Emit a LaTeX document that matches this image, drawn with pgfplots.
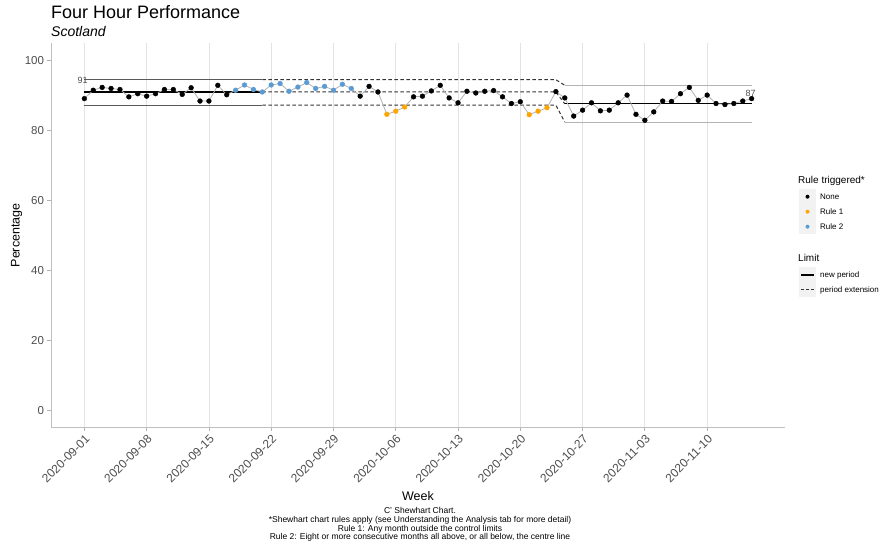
\documentclass[border=0pt]{standalone}
\usepackage{pgfplots}
\usepackage{pgfplotstable}
\usepackage{fontspec}
\setmainfont{Liberation Sans}
\pgfplotsset{compat=1.18}
\definecolor{ruleone}{HTML}{FFA500}
\definecolor{ruletwo}{HTML}{5A9BD4}
\definecolor{ticktxt}{HTML}{4D4D4D}
\definecolor{keybg}{HTML}{F2F2F2}
\definecolor{dashcol}{HTML}{333333}

% day index (0 = 2020-09-01), percentage, rule class
\pgfplotstableread{
day val rule
0 89.1 N
1 91.5 N
2 92.3 N
3 92.0 N
4 91.7 N
5 89.6 N
6 90.5 N
7 89.8 N
8 90.5 N
9 91.7 N
10 91.7 N
11 90.3 N
12 92.2 N
13 88.4 N
14 88.4 N
15 92.9 N
16 90.2 N
17 91.5 B
18 93.0 B
19 91.7 B
20 91.0 B
21 93.0 B
22 93.4 B
23 91.2 B
24 92.4 B
25 93.7 B
26 92.0 B
27 92.6 B
28 91.5 B
29 93.2 B
30 92.0 B
31 89.8 N
32 92.6 N
33 91.0 N
34 84.6 O
35 85.5 O
36 86.7 O
37 89.6 N
38 89.8 N
39 91.3 N
40 92.9 N
41 89.3 N
42 87.9 N
43 91.2 N
44 90.7 N
45 91.2 N
46 91.4 N
47 89.6 N
48 87.7 N
49 88.2 N
50 84.5 O
51 85.5 O
52 86.5 O
53 91.1 N
54 89.3 N
55 84.1 N
56 85.8 N
57 87.9 N
58 85.6 N
59 85.8 N
60 87.9 N
61 90.1 N
62 84.6 N
63 82.9 N
64 85.3 N
65 88.4 N
66 88.3 N
67 90.5 N
68 92.3 N
69 88.6 N
70 90.1 N
71 87.7 N
72 87.4 N
73 87.7 N
74 88.4 N
75 89.1 N
}\perfdata

\begin{document}
\begin{tikzpicture}
\useasboundingbox (0pt,0pt) rectangle (887pt,552pt);

\node[anchor=base west, inner sep=0pt, font=\fontsize{18}{20}\selectfont] at (51pt,533.7pt) {Four Hour Performance};
\node[anchor=base west, inner sep=0pt, font=\fontsize{14}{16}\selectfont\itshape] at (51pt,515pt) {Scotland};

\begin{axis}[
  at={(51pt,124.3pt)}, anchor=south west,
  scale only axis,
  width=734pt, height=384.7pt,
  xmin=-3.75, xmax=78.75,
  ymin=-5, ymax=105,
  xtick={0,7,14,21,28,35,42,49,56,63,70},
  xticklabels={2020-09-01,2020-09-08,2020-09-15,2020-09-22,2020-09-29,2020-10-06,2020-10-13,2020-10-20,2020-10-27,2020-11-03,2020-11-10},
  ytick={0,20,40,60,80,100},
  /pgf/number format/assume math mode=true,
  xticklabel style={rotate=45, anchor=north east, font=\fontsize{12}{12}\selectfont, text=ticktxt, inner sep=2pt},
  yticklabel style={font=\fontsize{11.5}{12}\selectfont, text=ticktxt},
  axis x line*=bottom, axis y line*=left,
  axis line style={draw=gray!50, line width=0.8pt, -},
  tick align=outside, major tick length=3.5pt,
  tick style={draw=gray!60, line width=0.8pt},
  xmajorgrids, grid style={gray!22, line width=0.8pt},
  xlabel={Week}, ylabel={Percentage},
  xlabel style={font=\fontsize{12.5}{14}\selectfont, at={(axis description cs:0.5,-0.188)}, anchor=base},
  ylabel style={font=\fontsize{12.5}{14}\selectfont, at={(axis description cs:-0.047,0.5)}, anchor=center},
  clip=false,
]
% period 1 limits (solid)
\addplot[gray!70!black, line width=0.9pt] coordinates {(0,94.5) (20,94.5)};
\addplot[black, line width=1.2pt] coordinates {(0,91.0) (20,91.0)};
\addplot[gray!70!black, line width=0.9pt] coordinates {(0,87.2) (20,87.2)};
% period extension (dashed)
\addplot[dashcol, line width=1pt, dash pattern=on 3.5pt off 2.5pt] coordinates {(20,94.5) (53,94.5) (54,92.9)};
\addplot[dashcol, line width=1pt, dash pattern=on 3.5pt off 2.5pt] coordinates {(20,91.0) (53,91.0) (54,87.6)};
\addplot[dashcol, line width=1pt, dash pattern=on 3.5pt off 2.5pt] coordinates {(20,87.2) (53,87.2) (54,82.4)};
% period 2 limits (solid)
\addplot[gray!60, line width=0.9pt] coordinates {(54,92.9) (75,92.9)};
\addplot[black, line width=1.2pt] coordinates {(54,87.6) (75,87.6)};
\addplot[gray!60, line width=0.9pt] coordinates {(54,82.4) (75,82.4)};
% data
\addplot[gray!60, line width=0.8pt, no marks] table[x=day, y=val] {\perfdata};
\addplot[scatter, only marks, mark=*, mark size=2.4pt,
  scatter src=explicit symbolic,
  scatter/classes={
    N={mark=*, draw=black, fill=black},
    O={mark=*, draw=ruleone, fill=ruleone},
    B={mark=*, draw=ruletwo, fill=ruletwo}}]
  table[x=day, y=val, meta=rule] {\perfdata};
\node[font=\fontsize{9}{10}\selectfont, text=ticktxt] at (axis cs:-0.2,94.3) {91};
\node[font=\fontsize{9}{10}\selectfont, text=ticktxt] at (axis cs:74.9,90.5) {87};
\end{axis}

% caption
\node[anchor=north, align=center, inner sep=0pt, font=\fontsize{8.5}{8.6}\selectfont] at (420pt,44.5pt)
  {C' Shewhart Chart.\\*Shewhart chart rules apply (see Understanding the Analysis tab for more detail)\\Rule 1: Any month outside the control limits\\Rule 2: Eight or more consecutive months all above, or all below, the centre line};

% legend
\node[anchor=base west, inner sep=0pt, font=\fontsize{10}{12}\selectfont] at (798pt,368pt) {Rule triggered*};
\fill[keybg] (799pt,363pt) rectangle (816pt,318pt);
\fill[black] (807.5pt,355.3pt) circle (2pt);
\fill[ruleone] (807.5pt,340.3pt) circle (2pt);
\fill[ruletwo] (807.5pt,325.3pt) circle (2pt);
\node[anchor=west, inner sep=0pt, font=\fontsize{8}{9}\selectfont] at (820pt,355.3pt) {None};
\node[anchor=west, inner sep=0pt, font=\fontsize{8}{9}\selectfont] at (820pt,340.3pt) {Rule 1};
\node[anchor=west, inner sep=0pt, font=\fontsize{8}{9}\selectfont] at (820pt,325.3pt) {Rule 2};

\node[anchor=base west, inner sep=0pt, font=\fontsize{10}{12}\selectfont] at (798pt,290pt) {Limit};
\fill[keybg] (799pt,285pt) rectangle (816pt,255pt);
\draw[black, line width=1.2pt] (801pt,277pt) -- (814pt,277pt);
\draw[dashcol, line width=1pt, dash pattern=on 3pt off 2pt] (801pt,262pt) -- (814pt,262pt);
\node[anchor=west, inner sep=0pt, font=\fontsize{8}{9}\selectfont] at (820pt,277pt) {new period};
\node[anchor=west, inner sep=0pt, font=\fontsize{8}{9}\selectfont] at (820pt,262pt) {period extension};
\end{tikzpicture}
\end{document}
